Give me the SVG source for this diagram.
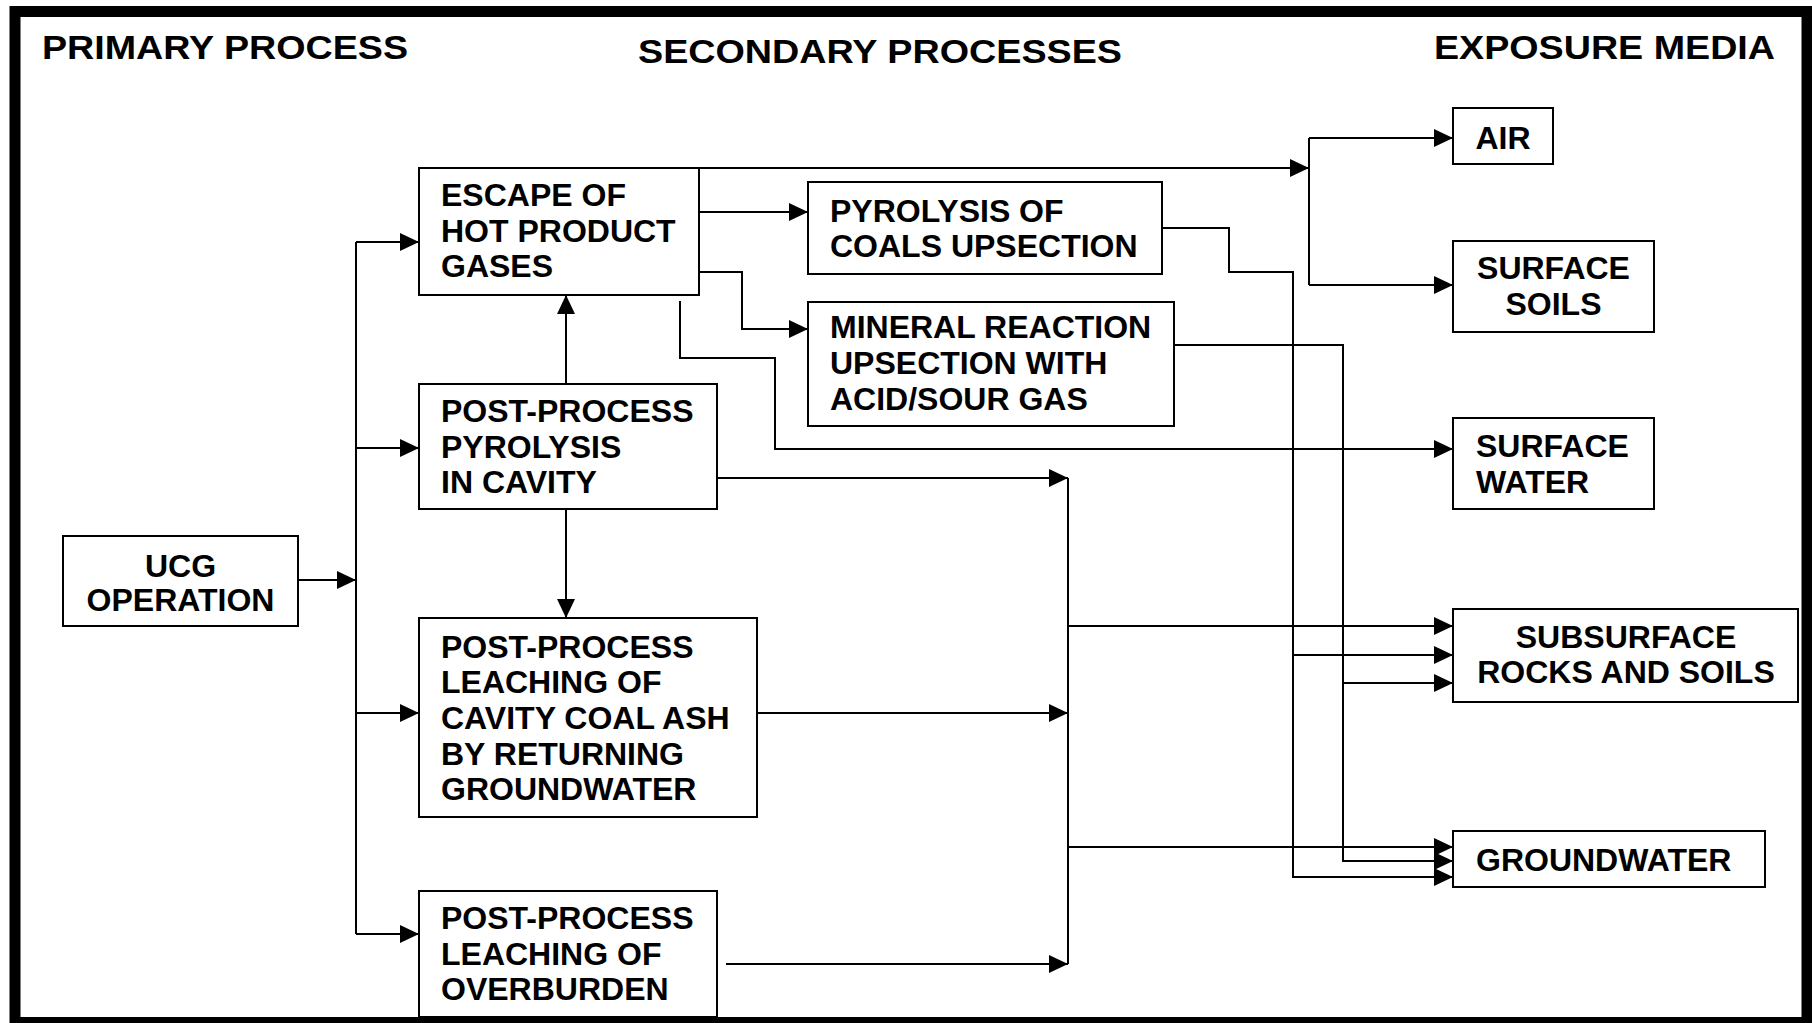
<svg xmlns="http://www.w3.org/2000/svg" width="1812" height="1023" viewBox="0 0 1812 1023">
<defs>
<marker id="arr" markerUnits="userSpaceOnUse" markerWidth="19" markerHeight="18" refX="19" refY="9" orient="auto">
<path d="M0,0 L19,9 L0,18 z" fill="#000"/>
</marker>
<style>
.box{fill:#fff;stroke:#000;stroke-width:2}
.t{font-family:"Liberation Sans",Arial,sans-serif;font-weight:bold;font-size:32px;fill:#000}
.h{font-family:"Liberation Sans",Arial,sans-serif;font-weight:bold;font-size:34px;fill:#000}
.c{text-anchor:middle}
.ln{fill:none;stroke:#000;stroke-width:2}
.a{marker-end:url(#arr)}
</style>
</defs>
<rect x="0" y="0" width="1812" height="1023" fill="#fff"/>
<rect x="15" y="11.5" width="1792" height="1011" fill="none" stroke="#000" stroke-width="11"/>
<g id="headers">
<text class="h" x="42" y="59" textLength="366" lengthAdjust="spacingAndGlyphs">PRIMARY PROCESS</text>
<text class="h" x="638" y="63" textLength="484" lengthAdjust="spacingAndGlyphs">SECONDARY PROCESSES</text>
<text class="h" x="1434" y="59" textLength="341" lengthAdjust="spacingAndGlyphs">EXPOSURE MEDIA</text>
</g>
<g id="connectors">
<path class="ln a" d="M290,580 H356"/>
<path class="ln" d="M356,242 V934"/>
<path class="ln a" d="M356,242 H419"/>
<path class="ln a" d="M356,448 H419"/>
<path class="ln a" d="M356,713 H419"/>
<path class="ln a" d="M356,934 H419"/>
<path class="ln a" d="M566,384 V295"/>
<path class="ln a" d="M566,509 V618"/>
<path class="ln a" d="M699,168 H1309"/>
<path class="ln" d="M1309,138 V285"/>
<path class="ln a" d="M1309,138 H1453"/>
<path class="ln a" d="M1309,285 H1453"/>
<path class="ln a" d="M694,212 H808"/>
<path class="ln a" d="M694,272 H742 V329 H808"/>
<path class="ln a" d="M680,301 V358 H775 V449 H1453"/>
<path class="ln a" d="M1162,228 H1229 V272 H1293 V877 H1453"/>
<path class="ln a" d="M1293,655 H1453"/>
<path class="ln a" d="M1174,345 H1343 V861 H1453"/>
<path class="ln a" d="M1343,683 H1453"/>
<path class="ln a" d="M712,478 H1068"/>
<path class="ln a" d="M757,713 H1068"/>
<path class="ln a" d="M726,964 H1068"/>
<path class="ln" d="M1068,478 V964"/>
<path class="ln a" d="M1068,626 H1453"/>
<path class="ln a" d="M1068,847 H1453"/>
</g>
<g id="ucg">
<rect class="box" x="63" y="536" width="235" height="90"/>
<text class="t c" x="180.5" y="577">UCG</text>
<text class="t c" x="180.5" y="611">OPERATION</text>
</g>
<g id="escape">
<rect class="box" x="419" y="168" width="280" height="127"/>
<text class="t" x="441" y="206">ESCAPE OF</text>
<text class="t" x="441" y="242">HOT PRODUCT</text>
<text class="t" x="441" y="277">GASES</text>
</g>
<g id="pyro-cavity">
<rect class="box" x="419" y="384" width="298" height="125"/>
<text class="t" x="441" y="422">POST-PROCESS</text>
<text class="t" x="441" y="458">PYROLYSIS</text>
<text class="t" x="441" y="493">IN CAVITY</text>
</g>
<g id="leach-ash">
<rect class="box" x="419" y="618" width="338" height="199"/>
<text class="t" x="441" y="658">POST-PROCESS</text>
<text class="t" x="441" y="693">LEACHING OF</text>
<text class="t" x="441" y="729">CAVITY COAL ASH</text>
<text class="t" x="441" y="765">BY RETURNING</text>
<text class="t" x="441" y="800">GROUNDWATER</text>
</g>
<g id="leach-overburden">
<rect class="box" x="419" y="891" width="298" height="126"/>
<text class="t" x="441" y="929">POST-PROCESS</text>
<text class="t" x="441" y="965">LEACHING OF</text>
<text class="t" x="441" y="1000">OVERBURDEN</text>
</g>
<g id="pyro-coals">
<rect class="box" x="808" y="182" width="354" height="92"/>
<text class="t" x="830" y="222">PYROLYSIS OF</text>
<text class="t" x="830" y="257">COALS UPSECTION</text>
</g>
<g id="mineral">
<rect class="box" x="808" y="302" width="366" height="124"/>
<text class="t" x="830" y="338">MINERAL REACTION</text>
<text class="t" x="830" y="374">UPSECTION WITH</text>
<text class="t" x="830" y="410">ACID/SOUR GAS</text>
</g>
<g id="air">
<rect class="box" x="1453" y="108" width="100" height="56"/>
<text class="t c" x="1503" y="149">AIR</text>
</g>
<g id="surface-soils">
<rect class="box" x="1453" y="241" width="201" height="91"/>
<text class="t c" x="1553.5" y="279">SURFACE</text>
<text class="t c" x="1553.5" y="315">SOILS</text>
</g>
<g id="surface-water">
<rect class="box" x="1453" y="418" width="201" height="91"/>
<text class="t" x="1476" y="457">SURFACE</text>
<text class="t" x="1476" y="493">WATER</text>
</g>
<g id="subsurface">
<rect class="box" x="1453" y="609" width="345" height="93"/>
<text class="t c" x="1626" y="648">SUBSURFACE</text>
<text class="t c" x="1626" y="683">ROCKS AND SOILS</text>
</g>
<g id="groundwater">
<rect class="box" x="1453" y="831" width="312" height="56"/>
<text class="t" x="1476" y="871">GROUNDWATER</text>
</g>
</svg>
